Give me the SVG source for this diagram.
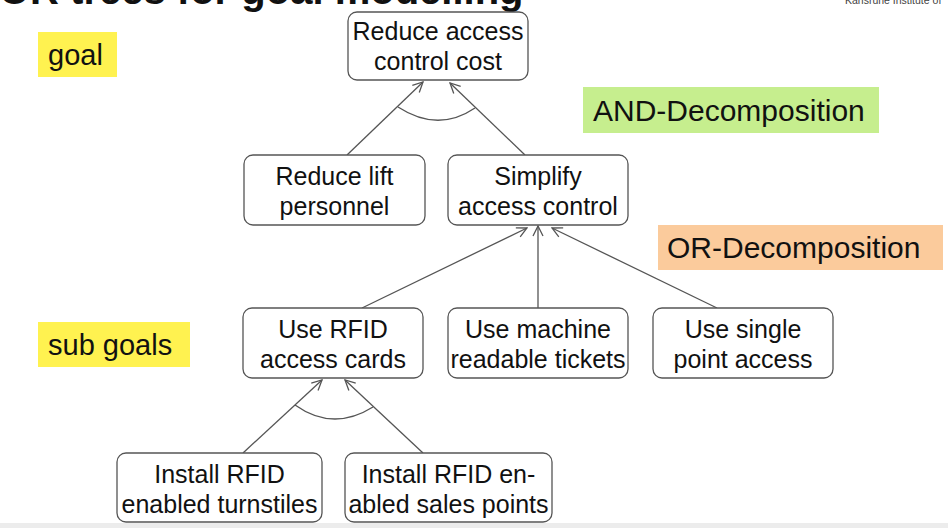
<svg xmlns="http://www.w3.org/2000/svg" width="948" height="528" viewBox="0 0 948 528">
<style>
.n rect{fill:#fff;stroke:#555;stroke-width:1.3}
.n text,.lab text{font-family:"Liberation Sans",Arial,sans-serif;font-size:25px;fill:#111;text-anchor:middle}
.lab text{font-size:29px;text-anchor:start}
.c line,.c path{stroke:#555;stroke-width:1.3;fill:none}
</style>
<defs>
<marker id="ah" viewBox="0 0 12 12" refX="11" refY="6" markerWidth="12" markerHeight="12" markerUnits="userSpaceOnUse" orient="auto">
<path d="M1,1 L11,6 L1,11" fill="none" stroke="#555" stroke-width="1.3"/>
</marker>
</defs>
<rect width="948" height="528" fill="#fff"/>
<rect x="0" y="523" width="948" height="5" fill="#ececec"/>
<text x="-1" y="4" font-family="Liberation Sans,Arial,sans-serif" font-size="40" font-weight="bold" fill="#111">OR trees for goal modelling</text>
<text x="845" y="4" font-family="Liberation Sans,Arial,sans-serif" font-size="10.5" fill="#444">Karlsruhe Institute of</text>

<g id="lab-goal" class="lab"><rect x="38" y="32" width="79" height="45" fill="#fff250"/><text x="48" y="65" font-size="29">goal</text></g>
<g id="lab-sub" class="lab"><rect x="38" y="322" width="152" height="45" fill="#fff250"/><text x="48" y="355">sub goals</text></g>
<g id="lab-and" class="lab"><rect x="583" y="87" width="296" height="46" fill="#c6ee8e"/><text x="593" y="121" style="font-size:30px">AND-Decomposition</text></g>
<g id="lab-or" class="lab"><rect x="658" y="225" width="285" height="45" fill="#fbcb9c"/><text x="667" y="258" style="font-size:30px">OR-Decomposition</text></g>

<g id="connectors" class="c">
<line x1="347" y1="155" x2="423" y2="82" marker-end="url(#ah)"/>
<line x1="525" y1="155" x2="450" y2="83" marker-end="url(#ah)"/>
<path d="M398,107 Q438,133 475,108"/>
<line x1="362" y1="308" x2="527" y2="228" marker-end="url(#ah)"/>
<line x1="538" y1="308" x2="538" y2="226" marker-end="url(#ah)"/>
<line x1="717" y1="308" x2="552" y2="228" marker-end="url(#ah)"/>
<line x1="243" y1="453" x2="322" y2="380" marker-end="url(#ah)"/>
<line x1="423" y1="453" x2="345" y2="380" marker-end="url(#ah)"/>
<path d="M295,405 Q333,432 373,407"/>
</g>

<g id="n1" class="n"><rect x="348" y="12" width="180" height="68" rx="9"/><text x="438" y="40">Reduce access</text><text x="438" y="70">control cost</text></g>
<g id="n2" class="n"><rect x="244" y="155" width="181" height="70" rx="9"/><text x="334.5" y="185">Reduce lift</text><text x="334.5" y="215">personnel</text></g>
<g id="n3" class="n"><rect x="448" y="155" width="180" height="70" rx="9"/><text x="538" y="185">Simplify</text><text x="538" y="215">access control</text></g>
<g id="n4" class="n"><rect x="243" y="308" width="180" height="70" rx="9"/><text x="333" y="338">Use RFID</text><text x="333" y="368">access cards</text></g>
<g id="n5" class="n"><rect x="448" y="308" width="180" height="70" rx="9"/><text x="538" y="338">Use machine</text><text x="538" y="368">readable tickets</text></g>
<g id="n6" class="n"><rect x="653" y="308" width="180" height="70" rx="9"/><text x="743" y="338">Use single</text><text x="743" y="368">point access</text></g>
<g id="n7" class="n"><rect x="117" y="453" width="205" height="69" rx="9"/><text x="219.5" y="483">Install RFID</text><text x="219.5" y="513">enabled turnstiles</text></g>
<g id="n8" class="n"><rect x="345" y="453" width="207" height="69" rx="9"/><text x="448.5" y="483">Install RFID en-</text><text x="448.5" y="513">abled sales points</text></g>
</svg>
